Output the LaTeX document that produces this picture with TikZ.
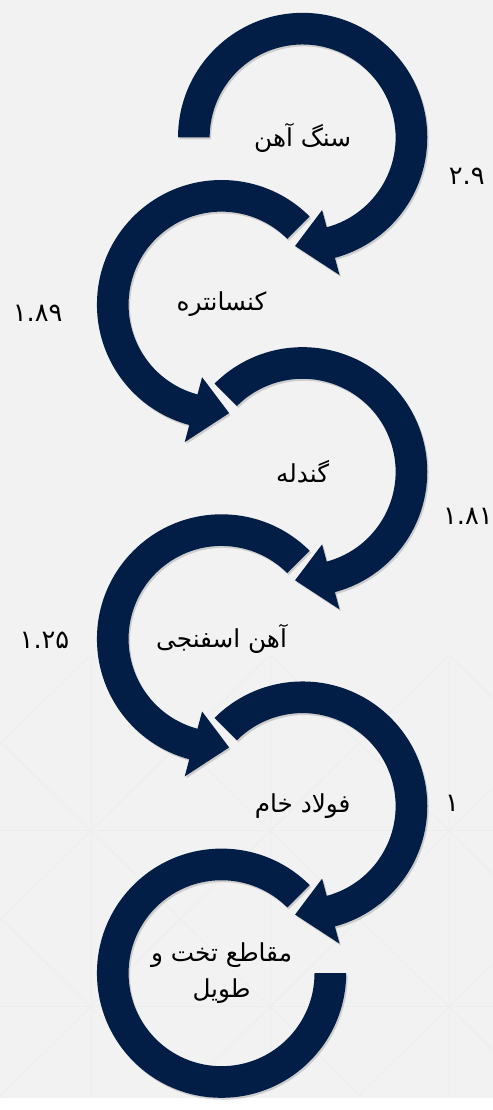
\documentclass[tikz,border=0pt]{standalone}
\usepackage{fontspec}
\usepackage{tikz}
\newfontfamily\arabicfont[Script=Arabic]{DejaVu Sans}
\TeXXeTstate=1
\definecolor{ringblue}{HTML}{021E46}
\definecolor{bgcol}{HTML}{F2F2F2}

\begin{document}
\begin{tikzpicture}[x=1pt, y=1pt]
    % gaya
    \tikzstyle{ring}=[fill=ringblue, preaction={fill=black, opacity=0.15, transform canvas={xshift=1.5pt, yshift=-2pt}}]
    \tikzstyle{stage}=[font=\arabicfont\fontsize{25}{36}\selectfont, align=center, inner sep=0pt]
    \tikzstyle{ratio}=[font=\arabicfont\fontsize{26}{28}\selectfont, inner sep=0pt]
    \tikzstyle{lattice}=[draw=black!7, line width=0.7pt]

    % latar
    \fill[bgcol] (0,0) rectangle (498,1110);
    \begin{scope}
        \clip (0,0) rectangle (498,446);
        \foreach \x in {-89,92,273,454} {
            \foreach \y in {-86,92,270} {
                \draw[lattice] (\x,\y) rectangle ++(181,178);
                \draw[lattice] (\x,\y) -- ++(181,178);
                \draw[lattice] (\x,\y+178) -- ++(181,-178);
            }
        }
    \end{scope}

    % tahap
    \node[stage] (1) at (306,971) {\beginR سنگ آهن\endR};
    \node[stage] (2) at (224,802) {\beginR کنسانتره\endR};
    \node[stage] (3) at (306,633) {\beginR گندله\endR};
    \node[stage] (4) at (224,464) {\beginR آهن اسفنجی\endR};
    \node[stage] (5) at (306,295) {\beginR فولاد خام\endR};
    \node[stage] (6) at (224,126) {\beginR مقاطع تخت و\endR\\\beginR طویل\endR};

    % nilai
    \node[ratio] (r1) at (472,932) {۲.۹};
    \node[ratio] (r2) at (38,793) {۱.۸۹};
    \node[ratio] (r3) at (473,588) {۱.۸۱};
    \node[ratio] (r4) at (45,463) {۱.۲۵};
    \node[ratio] (r5) at (457,298) {۱};

    % panah melingkar
    \fill[ring, shift={(1.center)}] (180:126) arc[start angle=180, end angle=-75, radius=126]
        -- (-75:144) -- (-94:110) -- (-75:76) -- (-75:94) arc[start angle=-75, end angle=180, radius=94] -- cycle;
    \fill[ring, shift={(2.center)}] (45:126) arc[start angle=45, end angle=255, radius=126]
        -- (255:144) -- (274:110) -- (255:76) -- (255:94) arc[start angle=255, end angle=45, radius=94] -- cycle;
    \fill[ring, shift={(3.center)}] (135:126) arc[start angle=135, end angle=-75, radius=126]
        -- (-75:144) -- (-94:110) -- (-75:76) -- (-75:94) arc[start angle=-75, end angle=135, radius=94] -- cycle;
    \fill[ring, shift={(4.center)}] (45:126) arc[start angle=45, end angle=255, radius=126]
        -- (255:144) -- (274:110) -- (255:76) -- (255:94) arc[start angle=255, end angle=45, radius=94] -- cycle;
    \fill[ring, shift={(5.center)}] (135:126) arc[start angle=135, end angle=-75, radius=126]
        -- (-75:144) -- (-94:110) -- (-75:76) -- (-75:94) arc[start angle=-75, end angle=135, radius=94] -- cycle;
    \fill[ring, shift={(6.center)}] (45:126) arc[start angle=45, end angle=360, radius=126]
        -- (0:94) arc[start angle=360, end angle=45, radius=94] -- cycle;
\end{tikzpicture}
\end{document}
